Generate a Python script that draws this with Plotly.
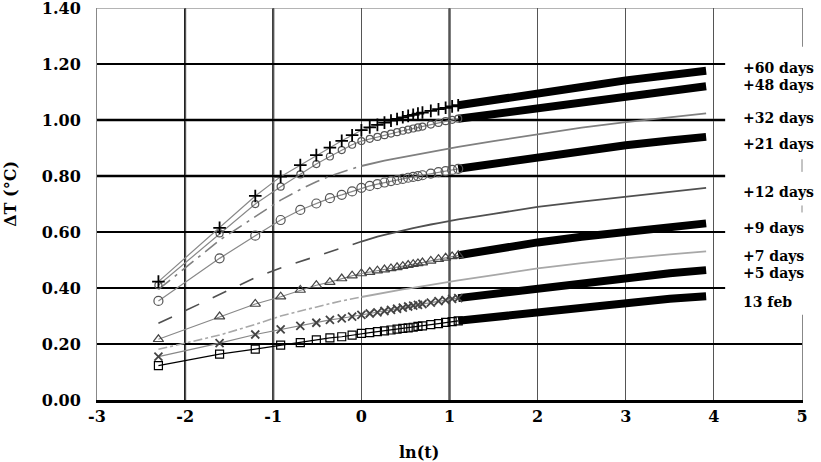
import plotly.graph_objects as go

# ---- data: x = ln(t) ----
LN_T_FINE = [-2.303, -1.609, -1.204, -0.916, -0.693, -0.511, -0.357, -0.223, -0.105, 0.0,
             0.095, 0.182, 0.262, 0.336, 0.405, 0.470, 0.531, 0.588, 0.642, 0.693,
             0.788, 0.875, 0.956, 1.030, 1.099]
LN_T_TAIL = [1.099, 1.5, 2.0, 2.5, 3.0, 3.5, 3.912]

SERIES_NAMES = ["13 feb", "+5 days", "+7 days", "+9 days", "+12 days",
                "+21 days", "+32 days", "+48 days", "+60 days"]

FEB13_FINE = [0.123, 0.164, 0.182, 0.196, 0.205, 0.215, 0.222, 0.226, 0.232, 0.238, 0.241, 0.244, 0.247,
              0.250, 0.253, 0.256, 0.258, 0.260, 0.263, 0.265, 0.269, 0.273, 0.277, 0.280, 0.283]
FEB13_TAIL = [0.283, 0.297, 0.315, 0.333, 0.350, 0.362, 0.371]

D5_FINE = [0.155, 0.203, 0.234, 0.252, 0.265, 0.276, 0.286, 0.292, 0.298, 0.304, 0.309, 0.313, 0.318,
           0.322, 0.326, 0.330, 0.334, 0.337, 0.340, 0.343, 0.348, 0.353, 0.357, 0.361, 0.364]
D5_TAIL = [0.364, 0.380, 0.397, 0.418, 0.438, 0.453, 0.464]

D7_FINE = [0.181, 0.232, 0.270, 0.300, 0.318, 0.333, 0.344, 0.354, 0.362, 0.368, 0.374, 0.379, 0.383,
           0.387, 0.391, 0.395, 0.398, 0.401, 0.404, 0.407, 0.412, 0.416, 0.420, 0.424, 0.427]
D7_TAIL = [0.427, 0.446, 0.470, 0.489, 0.506, 0.520, 0.531]

D9_FINE = [0.217, 0.298, 0.343, 0.369, 0.393, 0.410, 0.421, 0.434, 0.444, 0.452, 0.457, 0.462, 0.466,
           0.470, 0.474, 0.478, 0.482, 0.485, 0.488, 0.491, 0.497, 0.503, 0.508, 0.513, 0.517]
D9_TAIL = [0.517, 0.539, 0.563, 0.583, 0.601, 0.618, 0.631]

D12_FINE = [0.274, 0.378, 0.437, 0.472, 0.495, 0.513, 0.528, 0.542, 0.555, 0.566, 0.576, 0.584, 0.590,
            0.596, 0.601, 0.606, 0.610, 0.614, 0.618, 0.622, 0.627, 0.632, 0.637, 0.641, 0.645]
D12_TAIL = [0.645, 0.665, 0.690, 0.709, 0.727, 0.744, 0.758]

D21_FINE = [0.354, 0.506, 0.587, 0.643, 0.679, 0.702, 0.721, 0.733, 0.745, 0.758, 0.765, 0.771, 0.777,
            0.782, 0.786, 0.790, 0.794, 0.797, 0.800, 0.803, 0.809, 0.814, 0.818, 0.822, 0.826]
D21_TAIL = [0.826, 0.845, 0.867, 0.890, 0.910, 0.927, 0.940]

D32_FINE = [0.395, 0.571, 0.655, 0.714, 0.752, 0.780, 0.800, 0.815, 0.826, 0.836, 0.842, 0.849, 0.855,
            0.860, 0.864, 0.868, 0.872, 0.876, 0.879, 0.882, 0.888, 0.893, 0.897, 0.900, 0.904]
D32_TAIL = [0.904, 0.925, 0.948, 0.973, 0.993, 1.010, 1.024]

D48_FINE = [0.410, 0.595, 0.700, 0.762, 0.806, 0.843, 0.870, 0.893, 0.912, 0.925, 0.933, 0.940, 0.946,
            0.952, 0.957, 0.962, 0.966, 0.970, 0.974, 0.977, 0.984, 0.990, 0.996, 1.001, 1.005]
D48_TAIL = [1.005, 1.022, 1.045, 1.064, 1.083, 1.103, 1.121]

D60_FINE = [0.423, 0.615, 0.729, 0.798, 0.839, 0.875, 0.902, 0.926, 0.946, 0.964, 0.974, 0.983, 0.991,
            0.998, 1.004, 1.010, 1.015, 1.019, 1.023, 1.027, 1.033, 1.039, 1.044, 1.049, 1.053]
D60_TAIL = [1.053, 1.070, 1.093, 1.118, 1.142, 1.161, 1.176]

FINE = [FEB13_FINE, D5_FINE, D7_FINE, D9_FINE, D12_FINE, D21_FINE, D32_FINE, D48_FINE, D60_FINE]
TAIL = [FEB13_TAIL, D5_TAIL, D7_TAIL, D9_TAIL, D12_TAIL, D21_TAIL, D32_TAIL, D48_TAIL, D60_TAIL]

X_TICKS = [-3, -2, -1, 0, 1, 2, 3, 4, 5]
Y_TICKS = [0.0, 0.2, 0.4, 0.6, 0.8, 1.0, 1.2, 1.4]

# ---- styles (not data) ----
STYLES = [
    dict(marker="square-open", msize=8, mcolor="#000000", lcolor="#000000", dash=None),
    dict(marker="x-thin", msize=8, mcolor="#444444", lcolor="#888888", dash=None),
    dict(marker=None, lcolor="#a8a8a8", dash="dashdot"),
    dict(marker="triangle-up-open", msize=9, mcolor="#444444", lcolor="#888888", dash=None),
    dict(marker=None, lcolor="#505050", dash="longdash"),
    dict(marker="circle-open", msize=9, mcolor="#555555", lcolor="#888888", dash=None),
    dict(marker=None, lcolor="#808080", dash="longdashdot"),
    dict(marker="circle-open", msize=7, mcolor="#555555", lcolor="#888888", dash=None),
    dict(marker="cross-thin", msize=9, mcolor="#000000", lcolor="#888888", dash=None),
]
LABEL_Y = [0.350, 0.454, 0.514, 0.614, 0.743, 0.914, 1.007, 1.125, 1.186]

SERIF = "DejaVu Serif, serif"

fig = go.Figure()
for name, fine, tail, st in zip(SERIES_NAMES, FINE, TAIL, STYLES):
    if st["marker"] is None:
        fig.add_trace(go.Scatter(x=LN_T_FINE[:10], y=fine[:10], mode="lines", name=name,
                                 line=dict(color=st["lcolor"], width=1.6, dash=st["dash"]),
                                 showlegend=False))
        fig.add_trace(go.Scatter(x=LN_T_FINE[9:] + LN_T_TAIL[1:], y=fine[9:] + tail[1:],
                                 mode="lines", name=name,
                                 line=dict(color=st["lcolor"], width=1.8), showlegend=False))
    else:
        fig.add_trace(go.Scatter(x=LN_T_TAIL, y=tail, mode="lines", name=name,
                                 line=dict(color="#000000", width=8), showlegend=False))
        mline = 1.8 if "thin" in st["marker"] else 1.2
        fig.add_trace(go.Scatter(x=LN_T_FINE, y=fine, mode="lines+markers", name=name,
                                 line=dict(color=st["lcolor"], width=1.2),
                                 marker=dict(symbol=st["marker"], size=st["msize"],
                                             color=st["mcolor"],
                                             line=dict(color=st["mcolor"], width=mline)),
                                 showlegend=False))

shapes = []
for xv in [-2, -1, 1]:
    shapes.append(dict(type="line", xref="x", yref="paper", x0=xv, x1=xv, y0=0, y1=1,
                       line=dict(color="#000000", width=2), layer="below"))
for yv in [1.0, 0.8]:
    shapes.append(dict(type="line", xref="paper", yref="y", x0=0, x1=1, y0=yv, y1=yv,
                       line=dict(color="#000000", width=2.5), layer="below"))
shapes += [
    dict(type="line", xref="paper", yref="y", x0=0, x1=1, y0=1.4, y1=1.4,
         line=dict(color="#888888", width=1), layer="below"),
    dict(type="rect", xref="paper", yref="y", x0=0.891, x1=1.05, y0=0.305, y1=1.262,
         fillcolor="white", line=dict(width=0), layer="above"),
    dict(type="line", xref="paper", yref="y", x0=1, x1=1, y0=0.815, y1=0.86,
         line=dict(color="#888888", width=1), layer="above"),
    dict(type="line", xref="paper", yref="y", x0=1, x1=1, y0=0.67, y1=0.695,
         line=dict(color="#888888", width=1), layer="above"),
]

annotations = []
for name, ly in zip(SERIES_NAMES, LABEL_Y):
    annotations.append(dict(x=0.913, xref="paper", y=ly, yref="y", text=name, showarrow=False,
                            xanchor="left", yanchor="middle",
                            font=dict(family=SERIF, size=14, color="#000000", weight="bold")))
annotations.append(dict(x=0.457, xref="paper", y=-0.135, yref="paper", text="ln(t)",
                        showarrow=False, xanchor="center", yanchor="middle",
                        font=dict(family=SERIF, size=16, color="#000000", weight="bold")))
annotations.append(dict(x=-0.122, xref="paper", y=0.526, yref="paper", text="ΔT (°C)",
                        showarrow=False, textangle=-90, xanchor="center", yanchor="middle",
                        font=dict(family=SERIF, size=16, color="#000000", weight="bold")))

fig.update_layout(
    width=821, height=462,
    margin=dict(l=97, r=19, t=8, b=62, autoexpand=False),
    paper_bgcolor="white", plot_bgcolor="white",
    showlegend=False,
    shapes=shapes, annotations=annotations,
    xaxis=dict(range=[-3, 5], tickvals=X_TICKS, ticktext=[str(v) for v in X_TICKS],
               showgrid=True, gridcolor="#555555", gridwidth=1.2, zeroline=False,
               showline=True, linecolor="#000000", linewidth=3, ticks="", automargin=False,
               tickfont=dict(family=SERIF, size=16, color="#000000", weight="bold")),
    yaxis=dict(range=[0, 1.4005], tickvals=Y_TICKS, tickformat=".2f",
               showgrid=True, gridcolor="#000000", gridwidth=1.5, zeroline=False,
               showline=True, linecolor="#888888", linewidth=1, mirror=True, ticks="",
               ticklabelstandoff=12, ticklabeloverflow="allow", automargin=False,
               tickfont=dict(family=SERIF, size=16, color="#000000", weight="bold")),
)

fig.write_html("out.html")
